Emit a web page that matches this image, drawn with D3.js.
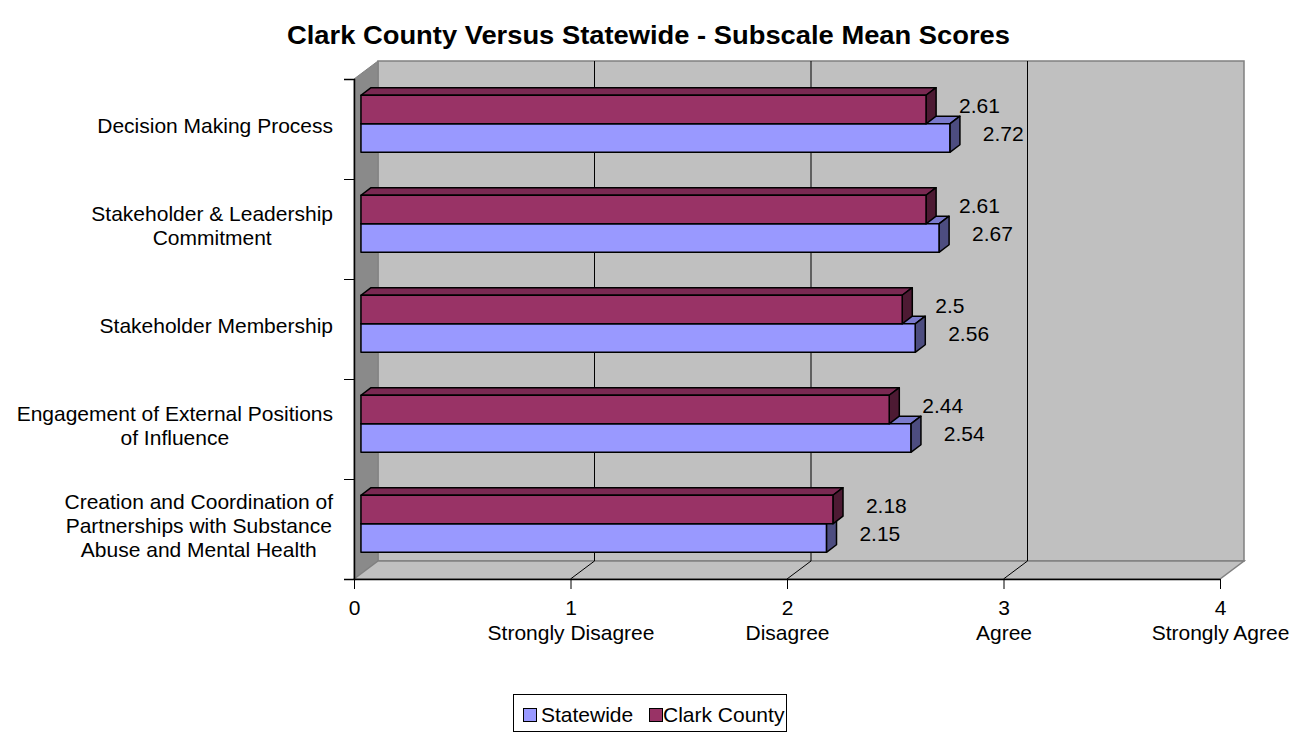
<!DOCTYPE html>
<html>
<head>
<meta charset="utf-8">
<script src="https://cdn.jsdelivr.net/npm/d3@7"></script>
<style>
  html, body { margin: 0; padding: 0; background: #ffffff; }
  svg { display: block; font-family: Arial, "Liberation Sans", sans-serif; }
</style>
</head>
<body>
<svg id="chart" width="1297" height="732"></svg>
<script>
// Subscale categories (each entry lists its wrapped label lines)
const categoryLines = [
  ["Decision Making Process"],
  ["Stakeholder & Leadership", "Commitment"],
  ["Stakeholder Membership"],
  ["Engagement of External Positions", "of Influence"],
  ["Creation and Coordination of", "Partnerships with Substance", "Abuse and Mental Health"]
];
const categories = categoryLines.map(l => l.join(" "));

// Mean scores per subscale
const statewide   = [2.72, 2.67, 2.56, 2.54, 2.15];
const clarkCounty = [2.61, 2.61, 2.5, 2.44, 2.18];

const seriesNames = ["Statewide", "Clark County"];
const seriesColors = { "Statewide": "#9999ff", "Clark County": "#993366" };

// Value axis ticks and their scale descriptions
const tickValues = [0, 1, 2, 3, 4];
const tickLabels = ["", "Strongly Disagree", "Disagree", "Agree", "Strongly Agree"];

const title = "Clark County Versus Statewide - Subscale Mean Scores";

const svg = d3.select("#chart");

// ---- 3D plot box geometry ----
const plot = { left: 354, right: 1220, top: 79, bottom: 579 };
const depth = { dx: 24, dy: -18 };          // projection of the full depth
const barZ = [0.29, 0.71];                  // bars occupy the middle of the depth

const x = d3.scaleLinear().domain([0, 4]).range([plot.left, plot.right]);
const y = d3.scaleBand().domain(categories).range([plot.top, plot.bottom]);
const yInner = d3.scaleBand().domain(["Clark County", "Statewide"])
  .range([0, y.bandwidth()]).paddingOuter(0.754);

// project a point at value v, front-plane y, depth z (0..1)
const P = (px, py, z) => [px + z * depth.dx, py + z * depth.dy];
const pts = arr => arr.map(p => p.join(",")).join(" ");

// ---- title ----
svg.append("text")
  .attr("x", 648.5).attr("y", 44)
  .attr("text-anchor", "middle")
  .attr("font-weight", "bold")
  .attr("font-size", 25)
  .attr("textLength", 723)
  .attr("lengthAdjust", "spacingAndGlyphs")
  .text(title);

const wallStroke = "#808080";

// back wall
svg.append("polygon")
  .attr("points", pts([P(plot.left, plot.top, 1), P(plot.right, plot.top, 1), P(plot.right, plot.bottom, 1), P(plot.left, plot.bottom, 1)]))
  .attr("fill", "#c0c0c0").attr("stroke", wallStroke).attr("stroke-width", 1.5);

// left side wall
svg.append("polygon")
  .attr("points", pts([P(plot.left, plot.top, 0), P(plot.left, plot.top, 1), P(plot.left, plot.bottom, 1), P(plot.left, plot.bottom, 0)]))
  .attr("fill", "#8a8a8a").attr("stroke", wallStroke).attr("stroke-width", 1);

// floor
svg.append("polygon")
  .attr("points", pts([P(plot.left, plot.bottom, 0), P(plot.left, plot.bottom, 1), P(plot.right, plot.bottom, 1), P(plot.right, plot.bottom, 0)]))
  .attr("fill", "#c0c0c0").attr("stroke", wallStroke).attr("stroke-width", 1.5);

// gridlines on the back wall and their continuation on the floor
const gridVals = tickValues.filter(v => v > 0 && v < 4);
svg.append("g").selectAll("line").data(gridVals).join("line")
  .attr("x1", d => P(x(d), plot.top, 1)[0]).attr("y1", d => P(x(d), plot.top, 1)[1])
  .attr("x2", d => P(x(d), plot.bottom, 1)[0]).attr("y2", d => P(x(d), plot.bottom, 1)[1])
  .attr("stroke", "#000").attr("stroke-width", 1);
svg.append("g").selectAll("line").data(gridVals).join("line")
  .attr("x1", d => x(d)).attr("y1", plot.bottom)
  .attr("x2", d => P(x(d), plot.bottom, 1)[0]).attr("y2", d => P(x(d), plot.bottom, 1)[1])
  .attr("stroke", "#000").attr("stroke-width", 1);

// ---- axes ----
// category axis: ticks sit between categories
const yEdge = d3.scaleLinear().domain([0, categories.length]).range([plot.top, plot.bottom]);
svg.append("g")
  .attr("transform", `translate(${plot.left},0)`)
  .call(d3.axisLeft(yEdge).ticks(categories.length).tickSize(10).tickFormat(""))
  .call(g => g.select(".domain").attr("stroke", "#000").attr("stroke-width", 1.5))
  .call(g => g.selectAll(".tick line").attr("stroke", "#000"));

// value axis
const xAxis = svg.append("g")
  .attr("transform", `translate(0,${plot.bottom})`)
  .call(d3.axisBottom(x).tickValues(tickValues).tickSize(10).tickSizeOuter(0).tickFormat(d3.format("d")));
xAxis.select(".domain").attr("stroke", "#000").attr("stroke-width", 1.5);
xAxis.selectAll(".tick line").attr("stroke", "#000");
xAxis.selectAll(".tick text")
  .attr("font-size", 21).attr("font-family", "Arial, 'Liberation Sans', sans-serif")
  .attr("fill", "#000").attr("y", 21).attr("dy", "0.71em")
  .each(function(d, i) {
    if (tickLabels[i]) {
      d3.select(this.parentNode).append("text")
        .attr("fill", "#000").attr("font-size", 21)
        .attr("font-family", "Arial, 'Liberation Sans', sans-serif")
        .attr("text-anchor", "middle")
        .attr("y", 46).attr("dy", "0.71em")
        .text(tickLabels[i]);
    }
  });

// category labels: lines centred within a right-aligned block
const labelRight = 333;
const lineH = 24;
const catG = svg.append("g").attr("font-size", 21).attr("fill", "#000");
categoryLines.forEach((lines, i) => {
  const t = catG.append("text").attr("text-anchor", "middle");
  const cy = y(categories[i]) + y.bandwidth() / 2 - 3;
  // measure widest line to align the block on the right
  const tmp = catG.append("text").attr("visibility", "hidden");
  let w = 0;
  lines.forEach(l => { tmp.text(l); w = Math.max(w, tmp.node().getComputedTextLength()); });
  tmp.remove();
  const cx = labelRight - w / 2;
  lines.forEach((l, k) => {
    t.append("tspan")
      .attr("x", cx)
      .attr("y", cy + (k - (lines.length - 1) / 2) * lineH)
      .attr("dy", "0.35em")
      .text(l);
  });
});

// ---- 3D bars ----
const rows = categories.map((c, i) => ({ cat: c, "Statewide": statewide[i], "Clark County": clarkCounty[i] }));

function shade(col, k) {
  const c = d3.rgb(col);
  return d3.rgb(c.r * k, c.g * k, c.b * k).toString();
}

const barG = svg.append("g");
// Statewide drawn first so that the Clark County bar resting on it overlaps correctly
["Statewide", "Clark County"].forEach(name => {
  rows.forEach(r => {
    const v = r[name];
    const y0f = y(r.cat) + yInner(name);              // front-plane top
    const y1f = y0f + yInner.bandwidth();
    const z0 = barZ[0], z1 = barZ[1];
    const xs = x(0), xe = x(v);
    const col = seriesColors[name];
    const g = barG.append("g").attr("stroke", "#000").attr("stroke-width", 1.5).attr("stroke-linejoin", "round");
    // top face
    g.append("polygon")
      .attr("points", pts([P(xs, y0f, z0), P(xs, y0f, z1), P(xe, y0f, z1), P(xe, y0f, z0)]))
      .attr("fill", shade(col, 0.8));
    // end face
    g.append("polygon")
      .attr("points", pts([P(xe, y0f, z0), P(xe, y0f, z1), P(xe, y1f, z1), P(xe, y1f, z0)]))
      .attr("fill", shade(col, 0.5));
    // front face
    g.append("polygon")
      .attr("points", pts([P(xs, y0f, z0), P(xe, y0f, z0), P(xe, y1f, z0), P(xs, y1f, z0)]))
      .attr("fill", col);
  });
});

// value labels
const lblG = svg.append("g").attr("font-size", 21).attr("fill", "#000");
["Clark County", "Statewide"].forEach(name => {
  rows.forEach(r => {
    const v = r[name];
    const yc = y(r.cat) + yInner(name) + yInner.bandwidth() / 2 + barZ[0] * depth.dy - 4;
    lblG.append("text")
      .attr("x", P(x(v), 0, barZ[0])[0] + 33)
      .attr("y", yc).attr("dy", "0.35em")
      .text(d3.format("")(v));
  });
});

// ---- legend ----
const legend = svg.append("g");
legend.append("rect")
  .attr("x", 513.5).attr("y", 694.5).attr("width", 273).attr("height", 37)
  .attr("fill", "#fff").attr("stroke", "#000").attr("stroke-width", 1);
const legendItems = [
  { name: "Statewide", sx: 523, tx: 541 },
  { name: "Clark County", sx: 649, tx: 663 }
];
legendItems.forEach(it => {
  legend.append("rect")
    .attr("x", it.sx + 0.5).attr("y", 708.5).attr("width", 13).attr("height", 13)
    .attr("fill", seriesColors[it.name]).attr("stroke", "#000").attr("stroke-width", 1);
  legend.append("text")
    .attr("x", it.tx).attr("y", 715).attr("dy", "0.35em")
    .attr("font-size", 21).attr("fill", "#000")
    .text(it.name);
});
</script>
</body>
</html>
